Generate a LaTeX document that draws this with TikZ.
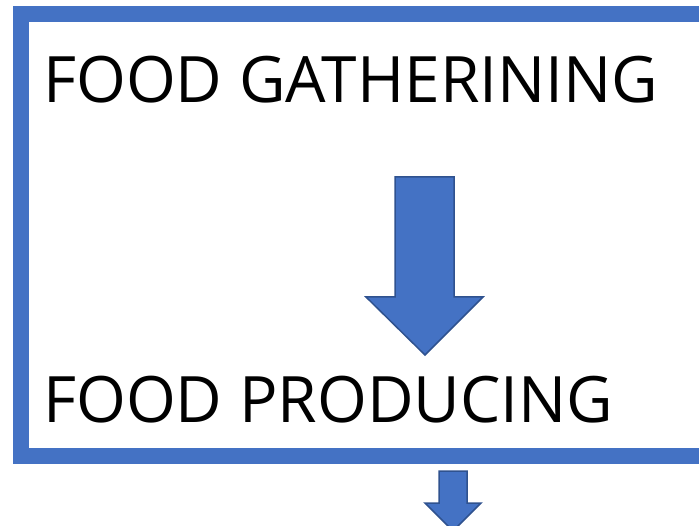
\documentclass[tikz,border=0pt]{standalone}
\usepackage{fontspec}
\setmainfont{Open Sans}
\definecolor{frameblue}{HTML}{4472C4}
\definecolor{edgeblue}{HTML}{2F528F}
\begin{document}
\begin{tikzpicture}[x=1pt,y=-1pt,
  lbl/.style={anchor=base west,inner sep=0pt,font=\fontsize{64}{76}\selectfont},
  blockarrow/.style={fill=frameblue,draw=edgeblue,line width=1.5pt,line join=miter}]
\useasboundingbox (0,0) rectangle (699,526);
\clip (0,0) rectangle (699,526);
\draw[frameblue,line width=16pt] (21,14) rectangle (720,456);
\node[lbl] (gather) at (43,103) {FOOD GATHERINING};
\node[lbl] (produce) at (43,423) {FOOD PRODUCING};
\draw[blockarrow] (395,177) -- (454,177) -- (454,297) -- (483,297) -- (425,355) -- (366,297) -- (395,297) -- cycle;
\draw[blockarrow] (439,471) -- (467,471) -- (467,503) -- (481,503) -- (453,531) -- (425,503) -- (439,503) -- cycle;
\end{tikzpicture}
\end{document}
